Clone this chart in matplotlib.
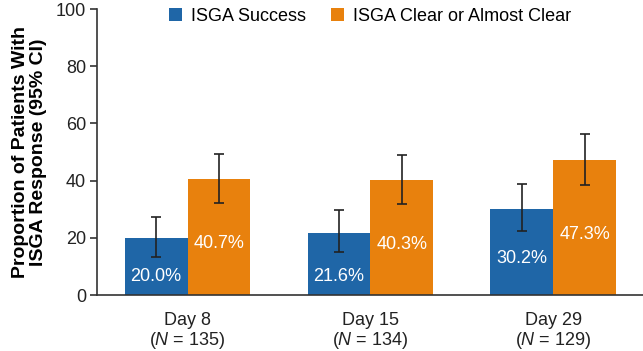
import matplotlib
matplotlib.use("Agg")
import matplotlib.pyplot as plt
import numpy as np

plt.rcParams['font.family'] = ['Liberation Sans', 'DejaVu Sans']
plt.rcParams['mathtext.fontset'] = 'custom'
plt.rcParams['mathtext.rm'] = 'Liberation Sans'
plt.rcParams['mathtext.it'] = 'Liberation Sans:italic'

categories = ["Day 8", "Day 15", "Day 29"]
n_values = [135, 134, 129]
series_names = ["ISGA Success", "ISGA Clear or Almost Clear"]
success = [20.0, 21.6, 30.2]
success_lo = [13.4, 14.9, 22.5]
success_hi = [27.4, 29.6, 38.9]
clear = [40.7, 40.3, 47.3]
clear_lo = [32.3, 31.8, 38.4]
clear_hi = [49.2, 49.1, 56.4]
yticks = [0, 20, 40, 60, 80, 100]

blue = "#1f66a7"
orange = "#e8810d"

fig = plt.figure(figsize=(6.43, 3.51), dpi=100)
ax = fig.add_axes([0.1509, 0.1595, 0.8491, 0.8148])

x = np.arange(len(categories))
w = 0.344

def draw(offset, vals, lo, hi, color, label):
    vals = np.array(vals); lo = np.array(lo); hi = np.array(hi)
    ax.bar(x + offset, vals, width=w, color=color, label=label, zorder=2)
    ax.errorbar(x + offset, vals, yerr=[vals - lo, hi - vals], fmt='none',
                ecolor='#222222', elinewidth=1.2, capsize=3.8, capthick=1.2, zorder=3)
    for xi, v in zip(x + offset, vals):
        ty = v / 2 - 2.5
        if ty < 10:
            ty = 6.4
        ax.text(xi, ty, f"{v:.1f}%", ha='center', va='center',
                color='white', fontsize=13, zorder=4)

draw(-w / 2, success, success_lo, success_hi, blue, series_names[0])
draw(w / 2, clear, clear_lo, clear_hi, orange, series_names[1])

ax.set_xlim(-0.495, 2.49)
ax.set_ylim(0, 100)
ax.set_yticks(yticks)
ax.set_xticks(x)
ax.set_xticklabels([f"{c}\n($\\it{{N}}$ = {n})" for c, n in zip(categories, n_values)],
                   fontsize=13, linespacing=1.12, color='#222222')
ax.tick_params(axis='x', length=0, pad=12)
ax.tick_params(axis='y', length=5, width=1.2, color='#333333', labelsize=13,
               labelcolor='#222222', pad=3)
for s in ['top', 'right']:
    ax.spines[s].set_visible(False)
for s in ['left', 'bottom']:
    ax.spines[s].set_color('#333333')
    ax.spines[s].set_linewidth(1.2)

ax.set_ylabel("Proportion of Patients With\nISGA Response (95% CI)", fontsize=14,
              fontweight='bold', labelpad=6, linespacing=1.1)

ax.legend(loc='upper center', bbox_to_anchor=(0.5, 1.06), ncol=2, frameon=False,
          fontsize=13, handlelength=0.7, handleheight=0.7, handletextpad=0.5,
          columnspacing=1.4)

fig.savefig("out.png", dpi=100)
